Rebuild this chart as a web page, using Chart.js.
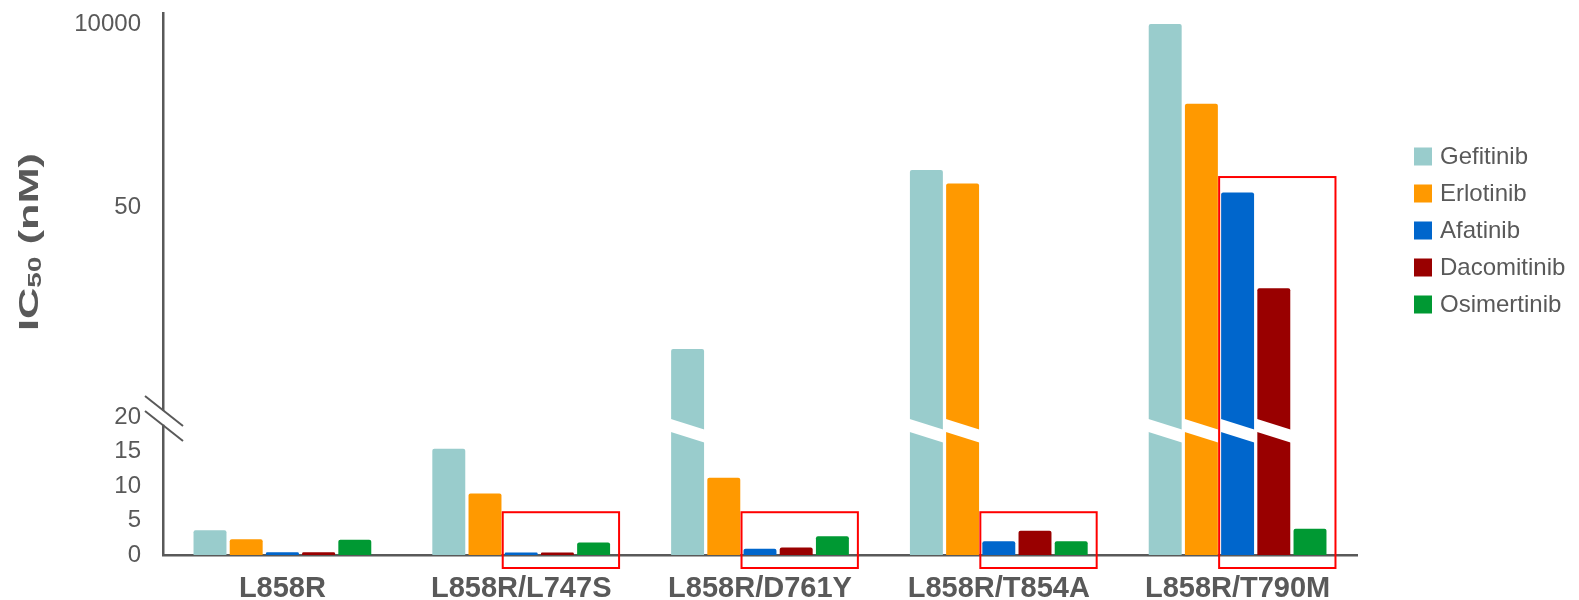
<!DOCTYPE html>
<html>
<head>
<meta charset="utf-8">
<script src="https://cdn.jsdelivr.net/npm/chart.js@4.4.1/dist/chart.umd.min.js"></script>
<style>
  html, body { margin: 0; padding: 0; background: #ffffff; }
  #wrap { width: 1579px; height: 600px; position: relative; }
</style>
</head>
<body>
<div id="wrap"><canvas id="chart_ic50"></canvas></div>
<script>
// data (IC50, nM)
var categories = ['L858R', 'L858R/L747S', 'L858R/D761Y', 'L858R/T854A', 'L858R/T790M'];
var gefitinib   = [3.6, 15.4, 29.7, 146, 10000];
var erlotinib   = [2.3, 8.9, 11.2, 99, 990];
var afatinib    = [0.4, 0.35, 0.9, 2.0, 76];
var dacomitinib = [0.4, 0.35, 1.1, 3.5, 38.4];
var osimertinib = [2.2, 1.8, 2.7, 2.0, 3.8];
var yTicks = [0, 5, 10, 15, 20, 50, 10000];

// red boxes: category index and value of the box top
var boxCategories = [1, 2, 3, 4];
var boxTops = [6.2, 6.2, 6.2, 119];

var GREY = '#595959';

// broken y axis: 0-20 linear, 20-50 linear, 50-10000 log
var F20 = 0.2546, F50 = 0.6421, F10K = 0.9797;
function toFrac(v) {
    if (v <= 20) return v / 20 * F20;
    if (v <= 50) return F20 + (v - 20) / 30 * (F50 - F20);
    return F50 + Math.log10(v / 50) / Math.log10(200) * (F10K - F50);
}
function fromFrac(f) {
    if (f <= F20) return f / F20 * 20;
    if (f <= F50) return 20 + (f - F20) / (F50 - F20) * 30;
    return 50 * Math.pow(200, (f - F50) / (F10K - F50));
}

class BrokenScale extends Chart.LinearScale {
    determineDataLimits() {
        this.min = 0;
        this.max = fromFrac(1);
    }
    buildTicks() {
        return yTicks.map(function(v) { return { value: v }; });
    }
    getPixelForValue(value) {
        return this.getPixelForDecimal(toFrac(value));
    }
    getValueForPixel(pixel) {
        return fromFrac(this.getDecimalForPixel(pixel));
    }
}
BrokenScale.id = 'broken';
BrokenScale.defaults = {};
Chart.register(BrokenScale);

var extras = {
    id: 'extras',
    afterDatasetsDraw: function(chart) {
        var ctx = chart.ctx;
        var y = chart.scales.y;
        // white slash across bars that run past the break
        var yc = y.getPixelForValue(18.0);
        chart.data.datasets.forEach(function(ds, di) {
            var meta = chart.getDatasetMeta(di);
            meta.data.forEach(function(bar, i) {
                if (ds.data[i] <= 20) return;
                var l = bar.x - bar.width / 2 - 1, r = bar.x + bar.width / 2 + 1;
                ctx.save();
                ctx.fillStyle = '#ffffff';
                ctx.beginPath();
                ctx.moveTo(l, yc - 6.5 - 5.5);
                ctx.lineTo(r, yc - 6.5 + 5.5);
                ctx.lineTo(r, yc + 6.5 + 5.5);
                ctx.lineTo(l, yc + 6.5 - 5.5);
                ctx.closePath();
                ctx.fill();
                ctx.restore();
            });
        });
        // red boxes
        ctx.save();
        ctx.strokeStyle = '#ff0000';
        ctx.lineWidth = 2;
        boxCategories.forEach(function(c, k) {
            var a = chart.getDatasetMeta(2).data[c];
            var b = chart.getDatasetMeta(4).data[c];
            var left = a.x - a.width / 2 - 2;
            var right = b.x + b.width / 2 + 9;
            var top = y.getPixelForValue(boxTops[k]);
            var bottom = y.getPixelForValue(0) + 13;
            ctx.strokeRect(left, top, right - left, bottom - top);
        });
        ctx.restore();
    },
    afterDraw: function(chart) {
        var ctx = chart.ctx;
        var y = chart.scales.y;
        var ax = chart.chartArea.left;
        // axis break marks
        var bc = y.getPixelForValue(19.9);
        ctx.save();
        ctx.fillStyle = '#ffffff';
        ctx.fillRect(ax - 3, bc - 7, 6, 14);
        ctx.strokeStyle = GREY;
        ctx.lineWidth = 2;
        [-7.5, 7.5].forEach(function(off) {
            ctx.beginPath();
            ctx.moveTo(ax - 18, bc + off - 14.2);
            ctx.lineTo(ax + 20, bc + off + 15.8);
            ctx.stroke();
        });
        ctx.restore();

        // y title with subscript (stretched along its length like the figure)
        ctx.save();
        ctx.translate(30, 242);
        ctx.rotate(-Math.PI / 2);
        ctx.scale(1.55, 1);
        ctx.fillStyle = GREY;
        ctx.textBaseline = 'middle';
        var big = 'bold 28px "Liberation Sans", Arial, sans-serif';
        var small = 'bold 18px "Liberation Sans", Arial, sans-serif';
        ctx.font = big; var w1 = ctx.measureText('IC').width; var w3 = ctx.measureText(' (nM)').width;
        ctx.font = small; var w2 = ctx.measureText('50').width;
        var x0 = -(w1 + w2 + w3) / 2;
        ctx.font = big; ctx.fillText('IC', x0, 0);
        ctx.font = small; ctx.fillText('50', x0 + w1, 6);
        ctx.font = big; ctx.fillText(' (nM)', x0 + w1 + w2, 0);
        ctx.restore();

        // legend
        ctx.save();
        ctx.font = '24px "Liberation Sans", Arial, sans-serif';
        ctx.textBaseline = 'middle';
        chart.data.datasets.forEach(function(ds, i) {
            var cy = 156.5 + i * 37;
            ctx.fillStyle = ds.backgroundColor;
            ctx.fillRect(1414, cy - 9, 18, 18);
            ctx.fillStyle = GREY;
            ctx.fillText(ds.label, 1440, cy + 1);
        });
        ctx.restore();
    }
};

var chart_ic50 = new Chart(document.getElementById('chart_ic50'), {
    type: 'bar',
    data: {
        labels: categories,
        datasets: [
            { label: 'Gefitinib', data: gefitinib, backgroundColor: '#99cccc' },
            { label: 'Erlotinib', data: erlotinib, backgroundColor: '#ff9900' },
            { label: 'Afatinib', data: afatinib, backgroundColor: '#0066cc' },
            { label: 'Dacomitinib', data: dacomitinib, backgroundColor: '#990000' },
            { label: 'Osimertinib', data: osimertinib, backgroundColor: '#009933' }
        ]
    },
    options: {
        animation: false,
        responsive: true,
        maintainAspectRatio: false,
        categoryPercentage: 0.758,
        barPercentage: 0.91,
        borderRadius: 2,
        borderSkipped: 'bottom',
        layout: { padding: { left: 0, right: 222, top: 13, bottom: 0 } },
        plugins: {
            legend: { display: false },
            tooltip: { enabled: false }
        },
        scales: {
            x: {
                grid: { display: false, drawTicks: false },
                border: { display: true, color: GREY, width: 2.5 },
                ticks: {
                    color: GREY,
                    padding: 17,
                    font: { family: '"Liberation Sans", Arial, sans-serif', size: 29, weight: 'bold' },
                    maxRotation: 0,
                    autoSkip: false
                },
                afterFit: function(s) { s.height = 45; s.paddingLeft = 0; s.paddingRight = 0; }
            },
            y: {
                type: 'broken',
                grid: { display: false, drawTicks: false },
                border: { display: true, color: GREY, width: 2.5 },
                ticks: {
                    color: GREY,
                    padding: 22,
                    autoSkip: false,
                    font: { family: '"Liberation Sans", Arial, sans-serif', size: 24 },
                    callback: function(value) { return String(value); }
                },
                afterFit: function(s) { s.width = 163; s.paddingTop = 0; s.paddingBottom = 0; }
            }
        }
    },
    plugins: [extras]
});
</script>
</body>
</html>
